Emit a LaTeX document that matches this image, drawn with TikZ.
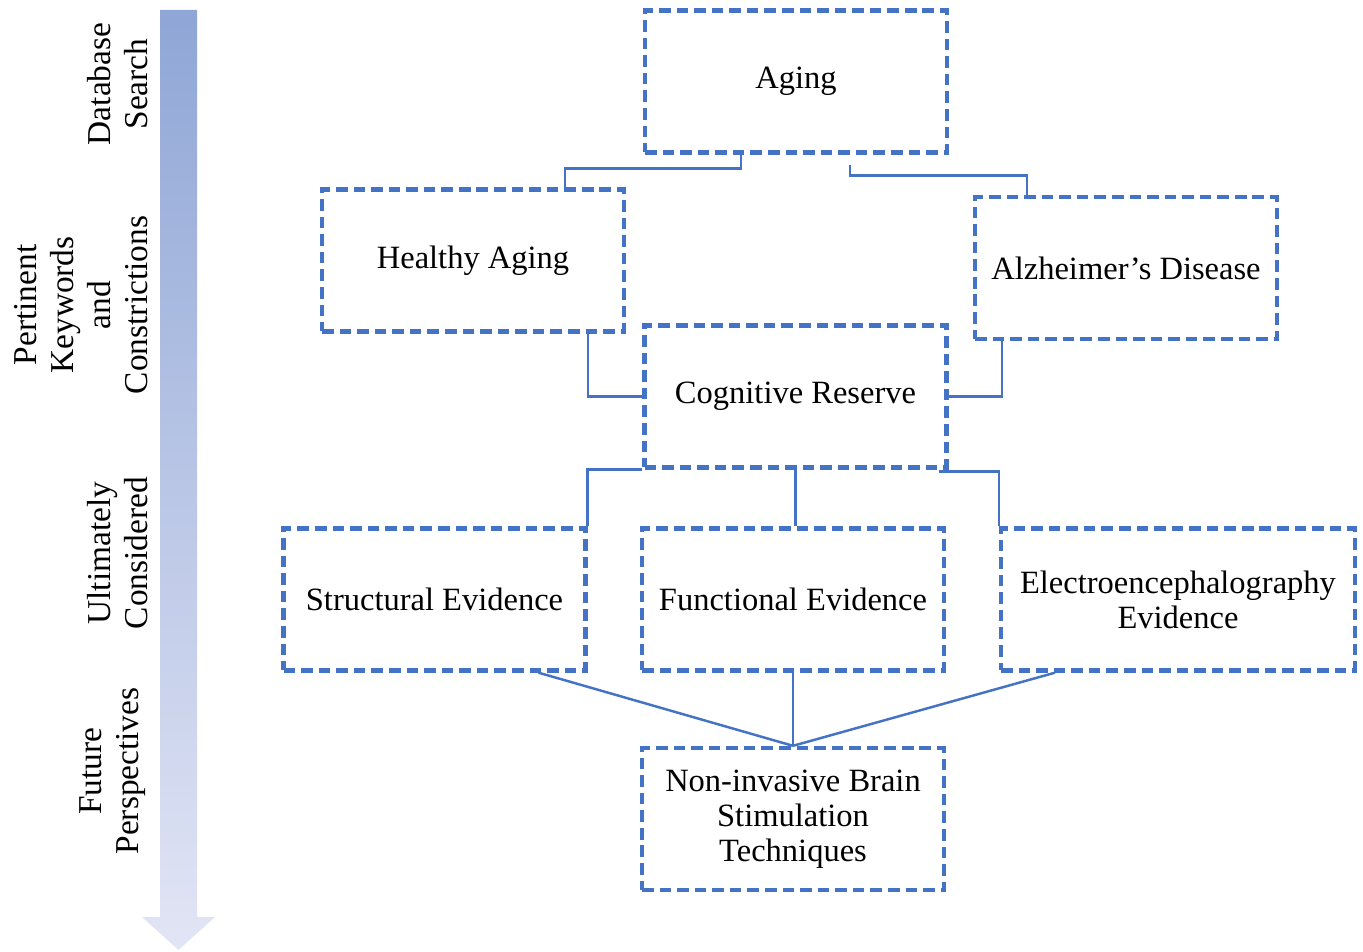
\documentclass[tikz,border=0pt]{standalone}
\usepackage{fontspec}
\setmainfont{Liberation Serif}
\usepackage{tikz}
\usetikzlibrary{calc,positioning}
\definecolor{boxblue}{RGB}{68,114,196}
\definecolor{arrowtop}{RGB}{143,166,214}
\definecolor{arrowbottom}{RGB}{226,229,245}
\newcommand{\boxcolor}{boxblue}
\newcommand{\thickness}{2.5pt}
\tikzset{
  stagebox/.style={draw=\boxcolor, line width=\thickness, dash pattern=on 6.6pt off 3.4pt,
    minimum width=6.04cm, minimum height=2.84cm, inner sep=0pt, align=center,
    font=\fontsize{18.5}{19.8}\selectfont},
  link/.style={draw=\boxcolor, line width=1.4pt},
  phase/.style={rotate=90, align=center, font=\fontsize{19}{21}\selectfont}
}
\begin{document}
\begin{tikzpicture}[x=0.02cm, y=-0.02cm]
\useasboundingbox (0,0) rectangle (1363,952);
%arrow
\shade[top color=arrowtop, bottom color=arrowbottom] (160,10) -- (197,10) -- (197,917) -- (215,917) -- (178.5,950) -- (142,917) -- (160,917) -- cycle;
\node (search) at (118, 84) [phase] {Database\\Search};
\node (keywords) at (81, 305) [phase] {Pertinent\\Keywords\\and\\Constrictions};
\node (considered) at (118, 553) [phase] {Ultimately\\Considered};
\node (future) at (113, 771) [phase] {Future\\Perspectives};
%boxes
\node (aging) at (796, 81.5) [stagebox] {Aging};
\node (healthy) at (473, 260.5) [stagebox] {Healthy Aging};
\node (alz) at (1126, 268) [stagebox] {Alzheimer’s Disease};
\node (cog) at (795.5, 396.5) [stagebox] {Cognitive Reserve};
\node (struct) at (434.5, 599.5) [stagebox] {Structural Evidence};
\node (func) at (793, 599.5) [stagebox] {Functional Evidence};
\node (eeg) at (1178, 599.5) [stagebox, minimum width=7.08cm] {Electroencephalography\\Evidence};
\node (nibs) at (793, 819) [stagebox] {Non-invasive Brain\\Stimulation\\Techniques};
%links
\draw[link] ($(aging.south)+(-55,0)$) -- ++(0,14) -| ($(healthy.north)+(92,0)$);
\draw[link] ($(aging.south)+(54,10)$) -- ++(0,11) -| ($(alz.north)+(-99,0)$);
\draw[link] ($(healthy.south)+(115,0)$) |- (cog.west);
\draw[link] ($(alz.south)+(-124,0)$) |- (cog.east);
\draw[link] (cog.south west) -| (struct.north east);
\draw[link] (cog.south) -- (cog.south |- func.north);
\draw[link] ($(cog.south east)+(-10,2)$) -| (eeg.north west);
\draw[link] ($(struct.south)+(104,0)$) -- (nibs.north);
\draw[link] (func.south) -- (func.south |- nibs.north);
\draw[link] ($(eeg.south)+(-123,0)$) -- (nibs.north);
\end{tikzpicture}
\end{document}
